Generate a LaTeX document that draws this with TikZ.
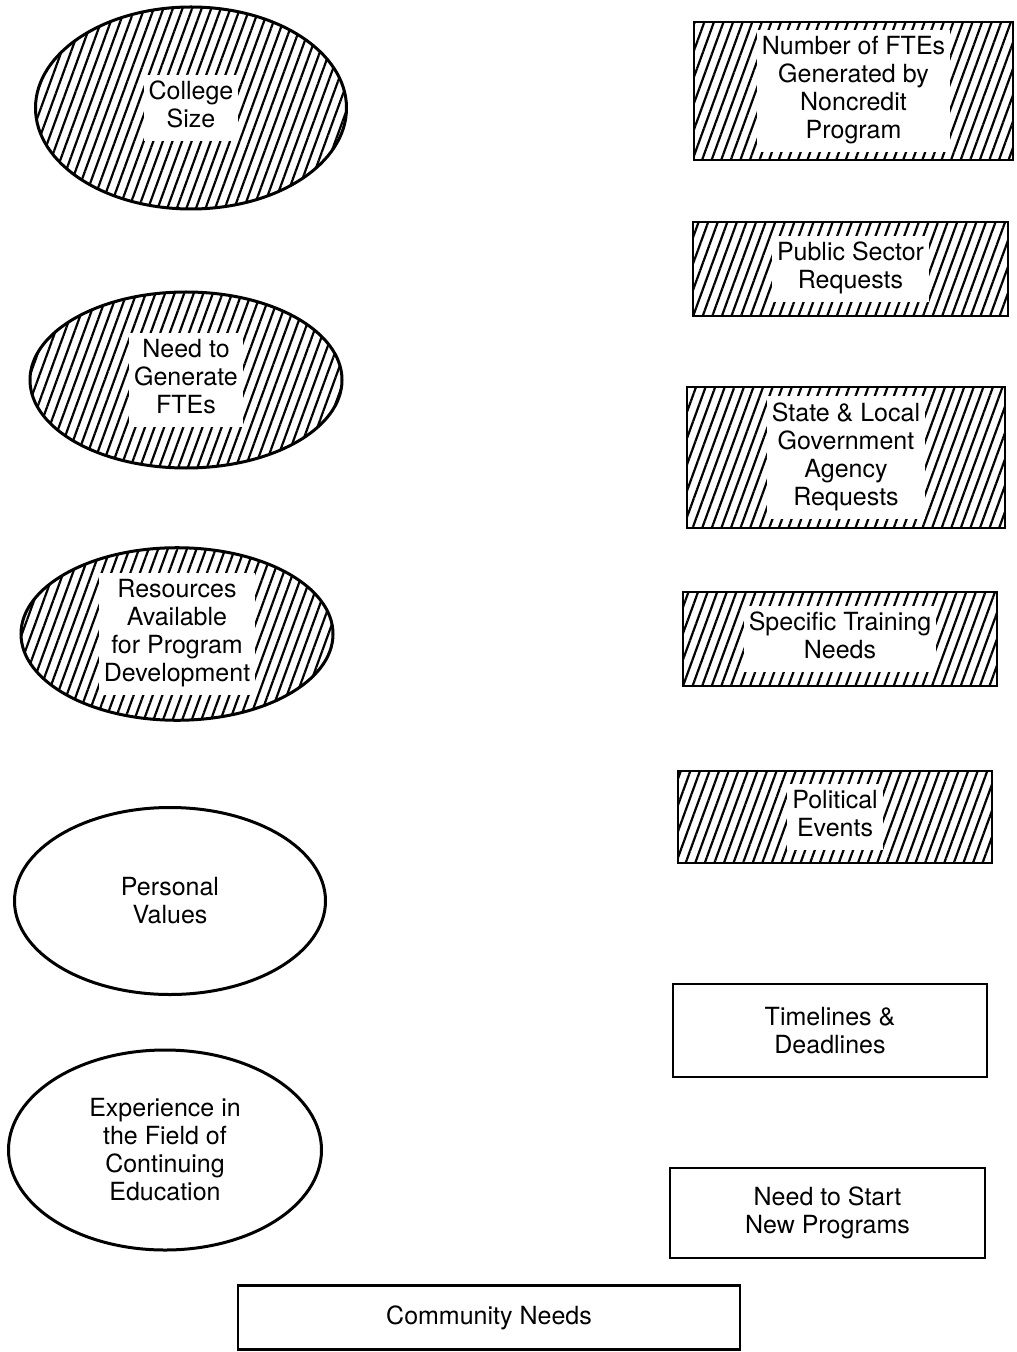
\documentclass[tikz,border=0pt]{standalone}
\usepackage{fontspec}
\setmainfont{TeX Gyre Heros}
\usetikzlibrary{shapes.geometric,patterns.meta}
\setlength{\fboxsep}{2.5pt}
\newcommand{\clair}[1]{\colorbox{white}{\begin{tabular}{@{}c@{}}#1\end{tabular}}}
\begin{document}
\begin{tikzpicture}[x=0.5pt,y=-0.5pt,font=\fontsize{12.5}{14}\selectfont,
facteur/.style={ellipse,draw,line width=1.5pt,inner sep=0pt,align=center},
cadre/.style={rectangle,draw,line width=1.4pt,inner sep=0pt,align=center},
hachure/.style={pattern={Lines[angle=70,distance=4.5pt,line width=1.1pt]}}]
\useasboundingbox (0,0) rectangle (1016,1352);
\node[facteur,hachure,minimum width=155.5pt,minimum height=101pt] (taille) at (191,108) {\clair{College\\Size}};
\node[facteur,hachure,minimum width=156pt,minimum height=88pt] (besoin) at (186,380) {\clair{Need to\\Generate\\FTEs}};
\node[facteur,hachure,minimum width=156pt,minimum height=86pt] (ressources) at (177,634) {\clair{Resources\\Available\\for Program\\Development}};
\node[facteur,minimum width=155.5pt,minimum height=93.5pt] (valeurs) at (170,901) {Personal\\Values};
\node[facteur,minimum width=156.5pt,minimum height=100pt] (experience) at (165,1150) {Experience in\\the Field of\\Continuing\\Education};
\node[cadre,hachure,minimum width=159.5pt,minimum height=69pt] (nombre) at (853.5,91) {\clair{Number of FTEs\\Generated by\\Noncredit\\Program}};
\node[cadre,hachure,minimum width=157.5pt,minimum height=47pt] (public) at (850.5,269) {\clair{Public Sector\\Requests}};
\node[cadre,hachure,minimum width=159pt,minimum height=70.5pt] (etat) at (846,457.5) {\clair{State \& Local\\Government\\Agency\\Requests}};
\node[cadre,hachure,minimum width=157pt,minimum height=47pt] (formation) at (840,639) {\clair{Specific Training\\Needs}};
\node[cadre,hachure,minimum width=157pt,minimum height=46pt] (politique) at (835,817) {\clair{Political\\Events}};
\node[cadre,minimum width=157pt,minimum height=46.5pt] (delais) at (830,1030.5) {Timelines \&\\Deadlines};
\node[cadre,minimum width=157.5pt,minimum height=45pt] (nouveaux) at (827.5,1213) {Need to Start\\New Programs};
\node[cadre,minimum width=251pt,minimum height=32pt] (communaute) at (489,1317.5) {Community Needs};
\end{tikzpicture}
\end{document}
